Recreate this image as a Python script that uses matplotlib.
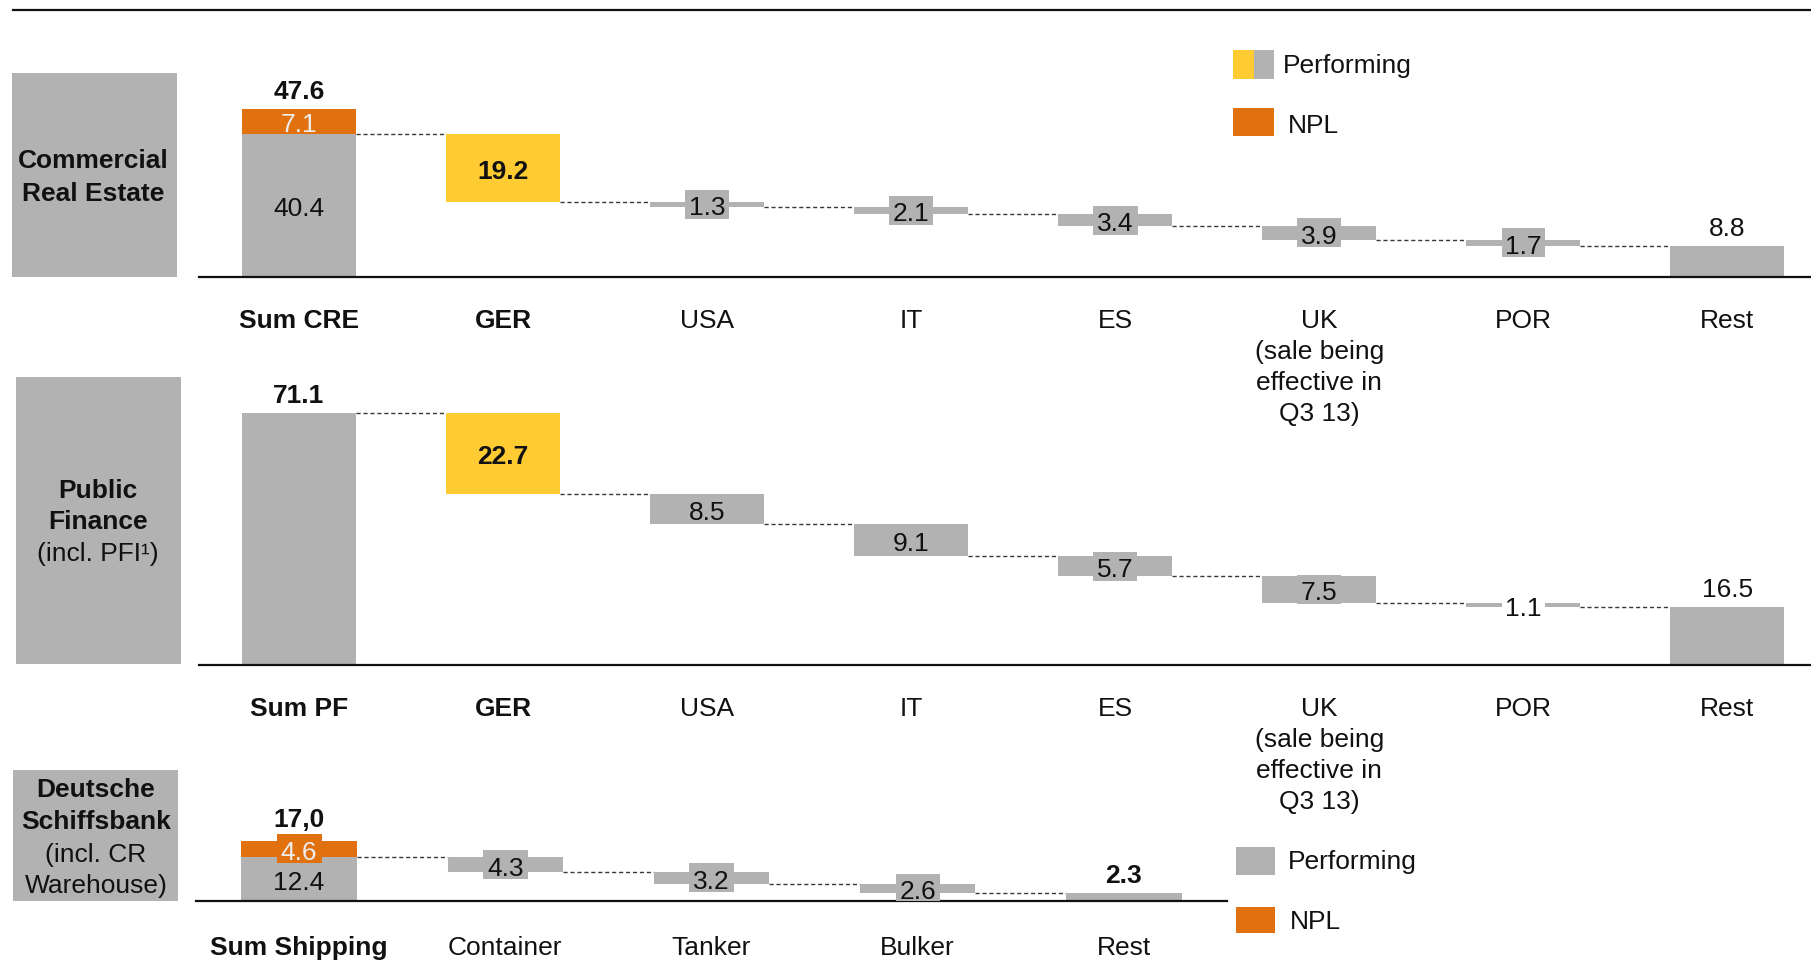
import matplotlib
matplotlib.use("Agg")
import matplotlib.pyplot as plt
from matplotlib.patches import Rectangle
from matplotlib.lines import Line2D
from matplotlib.textpath import TextPath
from matplotlib.font_manager import FontProperties

plt.rcParams['font.family'] = ['Liberation Sans', 'DejaVu Sans']

# ---------------------------------------------------------------- data (EUR bn)
cre_categories = ['Sum CRE', 'GER', 'USA', 'IT', 'ES',
                  'UK\n(sale being\neffective in\nQ3 13)', 'POR', 'Rest']
cre_performing = 40.4
cre_npl = 7.1
cre_total_label = '47.6'
cre_steps = [19.2, 1.3, 2.1, 3.4, 3.9, 1.7]
cre_rest = 8.8

pf_categories = ['Sum PF', 'GER', 'USA', 'IT', 'ES',
                 'UK\n(sale being\neffective in\nQ3 13)', 'POR', 'Rest']
pf_performing = 71.1
pf_npl = 0.0
pf_total_label = '71.1'
pf_steps = [22.7, 8.5, 9.1, 5.7, 7.5, 1.1]
pf_rest = 16.5

ship_categories = ['Sum Shipping', 'Container', 'Tanker', 'Bulker', 'Rest']
ship_performing = 12.4
ship_npl = 4.6
ship_total_label = '17,0'
ship_steps = [4.3, 3.2, 2.6]
ship_rest = 2.3

# ---------------------------------------------------------------- styling
W, H, DPI = 1811, 963, 100
GREY = '#B2B2B2'
YELLOW = '#FFCB33'
ORANGE = '#E1700E'
INK = '#111111'
NPL_INK = '#EDEDED'
FS = 19
FS_PX = FS * DPI / 72
PX_PER_UNIT = 3.54
BAR_W = 0.56
TXT_DROP = -4      # nudge in-bar digits down so they sit optically centred
LBL_BOX_H = 29     # height of the backing box behind small-bar labels (px)
LBL_BOX_PAD = 10   # extra width of that box (px)
FONT = FontProperties(family='Liberation Sans', size=FS)

fig = plt.figure(figsize=(W / DPI, H / DPI), dpi=DPI)
fig.patch.set_facecolor('white')


def fx(px):
    return px / W


def fy(px):
    return 1 - px / H


def fig_rect(x0, y0, x1, y1, color):
    fig.add_artist(Rectangle((fx(x0), fy(y1)), fx(x1 - x0), (y1 - y0) / H,
                             transform=fig.transFigure, color=color, lw=0))


def inbar(ax, x, y, text, px_per_x, color=INK, weight='normal', box=None):
    if box is not None:
        w_px = TextPath((0, 0), text, size=FS_PX, prop=FONT).get_extents().width + LBL_BOX_PAD
        w = w_px / px_per_x
        h = LBL_BOX_H / PX_PER_UNIT
        ax.add_patch(Rectangle((x - w / 2, y - h / 2), w, h, color=box, lw=0, zorder=3))
    ax.annotate(text, xy=(x, y), xytext=(0, TXT_DROP), textcoords='offset pixels',
                ha='center', va='center', fontsize=FS, color=color,
                fontweight=weight, zorder=4)


def panel(box, xlim, categories, performing, npl, total_label, steps, rest,
          step_colors, label_boxes, bold_cats, rest_bold, cat_gap,
          npl_box, total_gap):
    left, top, right, bottom = box
    ax = fig.add_axes([fx(left), fy(bottom), fx(right - left), (bottom - top) / H])
    ax.set_xlim(*xlim)
    ax.set_ylim(0, (bottom - top) / PX_PER_UNIT)
    px_per_x = (right - left) / (xlim[1] - xlim[0])
    for side in ('top', 'left', 'right'):
        ax.spines[side].set_visible(False)
    ax.spines['bottom'].set_linewidth(1.6)
    ax.spines['bottom'].set_color(INK)
    ax.set_xticks([])
    ax.set_yticks([])
    ax.patch.set_alpha(0)

    dash = dict(ls=(0, (3, 2)), lw=1.0, color='#3a3a3a', zorder=1)

    # stacked total bar
    ax.bar(0, performing, BAR_W, color=GREY, zorder=2)
    if npl:
        ax.bar(0, npl, BAR_W, bottom=performing, color=ORANGE, zorder=2)
        inbar(ax, 0, performing / 2, f'{performing:.1f}', px_per_x)
        inbar(ax, 0, performing + npl / 2, f'{npl:.1f}', px_per_x, color=NPL_INK,
              box=ORANGE if npl_box else None)
    ax.annotate(total_label, xy=(0, performing + npl), xytext=(0, total_gap),
                textcoords='offset pixels', ha='center', va='bottom',
                fontsize=FS, fontweight='bold', color=INK)

    # floating decrements
    level = performing
    for i, v in enumerate(steps, 1):
        ax.plot([i - 1 + BAR_W / 2, i - BAR_W / 2], [level, level], **dash)
        ax.bar(i, v, BAR_W, bottom=level - v, color=step_colors[i - 1], zorder=2)
        inbar(ax, i, level - v / 2, f'{v:.1f}', px_per_x,
              weight='bold' if step_colors[i - 1] == YELLOW else 'normal',
              box=label_boxes[i - 1])
        level -= v

    # remainder
    last = len(steps) + 1
    ax.plot([last - 1 + BAR_W / 2, last - BAR_W / 2], [level, level], **dash)
    ax.bar(last, rest, BAR_W, color=GREY, zorder=2)
    ax.annotate(f'{rest:.1f}', xy=(last, rest), xytext=(0, 5),
                textcoords='offset pixels', ha='center', va='bottom',
                fontsize=FS, color=INK,
                fontweight='bold' if rest_bold else 'normal')

    # category labels
    for i, cat in enumerate(categories):
        ax.annotate(cat, xy=(i, 0), xytext=(0, -cat_gap),
                    textcoords='offset pixels', ha='center', va='top',
                    fontsize=FS, color=INK, linespacing=1.36,
                    fontweight='bold' if i in bold_cats else 'normal')
    return ax


# top rule
fig.add_artist(Line2D([fx(13), 1], [fy(10), fy(10)], color=INK, lw=1.6,
                      transform=fig.transFigure))

# Commercial Real Estate
panel((199, 60, 1811, 277), (-0.49, 7.41), cre_categories, cre_performing,
      cre_npl, cre_total_label, cre_steps, cre_rest,
      [YELLOW] + [GREY] * 5, [None] + [GREY] * 5, {0, 1}, False, 32,
      False, 5)

# Public Finance
panel((199, 380, 1811, 665), (-0.49, 7.41), pf_categories, pf_performing,
      pf_npl, pf_total_label, pf_steps, pf_rest,
      [YELLOW] + [GREY] * 5, [None] + [GREY] * 4 + ['white'], {0, 1}, False, 32,
      False, 5)

# Deutsche Schiffsbank
panel((196, 780, 1227, 901), (-0.5, 4.5), ship_categories, ship_performing,
      ship_npl, ship_total_label, ship_steps, ship_rest,
      [GREY] * 3, [GREY] * 3, {0}, True, 35,
      True, 9)

# segment header boxes
fig_rect(12, 73, 177, 277, GREY)
fig_rect(16, 377, 181, 664, GREY)
fig_rect(13, 770, 178, 901, GREY)

headers = [
    (93.6, [('Commercial', 'bold', 161.5), ('Real Estate', 'bold', 193.8)]),
    (98.2, [('Public', 'bold', 490.5), ('Finance', 'bold', 521.7),
            ('(incl. PFI\u00b9)', 'normal', 554)]),
    (95.9, [('Deutsche', 'bold', 790), ('Schiffsbank', 'bold', 822.4),
            ('(incl. CR', 'normal', 854.7), ('Warehouse)', 'normal', 885.9)]),
]
for xc, lines in headers:
    for txt, weight, yc in lines:
        fig.text(fx(xc), fy(yc), txt, ha='center', va='center', fontsize=FS,
                 fontweight=weight, color=INK)

# legends
fig_rect(1233, 50, 1254, 79, YELLOW)
fig_rect(1254, 50, 1274, 79, GREY)
fig.text(fx(1283), fy(66), 'Performing', ha='left', va='center', fontsize=FS, color=INK)
fig_rect(1233, 108, 1274, 136, ORANGE)
fig.text(fx(1288), fy(126), 'NPL', ha='left', va='center', fontsize=FS, color=INK)

fig_rect(1236, 847, 1275, 875, GREY)
fig.text(fx(1288), fy(862), 'Performing', ha='left', va='center', fontsize=FS, color=INK)
fig_rect(1236, 907, 1275, 933, ORANGE)
fig.text(fx(1290), fy(922), 'NPL', ha='left', va='center', fontsize=FS, color=INK)

fig.savefig('out.png', dpi=DPI, facecolor='white')
